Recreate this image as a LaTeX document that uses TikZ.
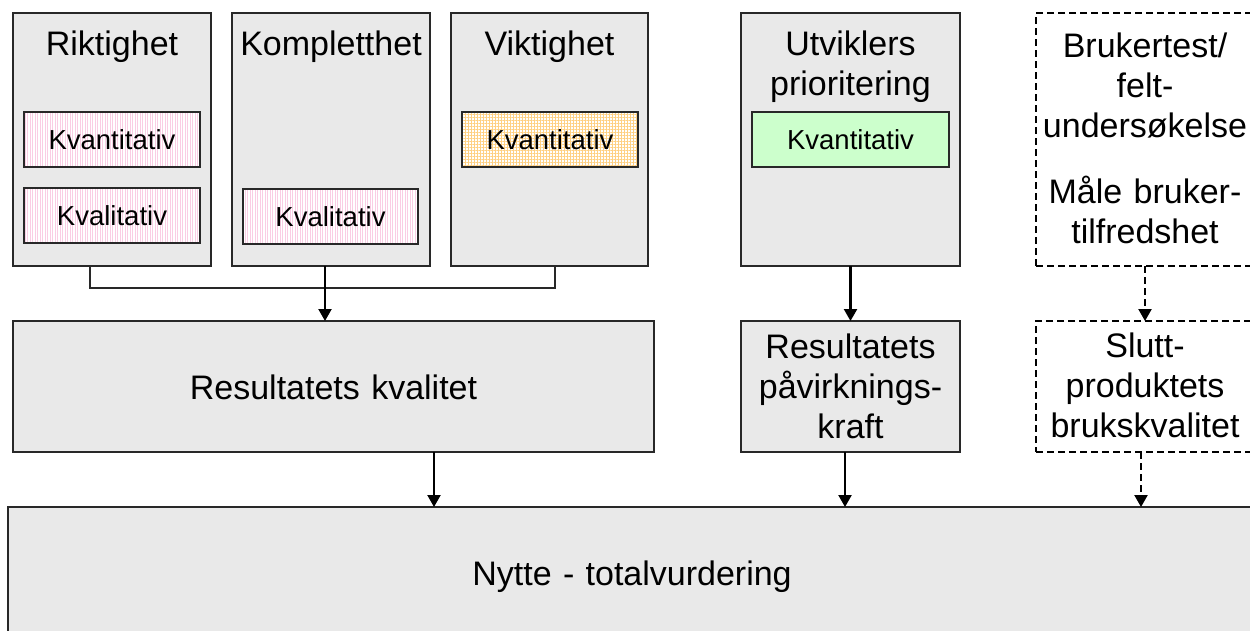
\documentclass[tikz,border=0pt]{standalone}
\usepackage{fontspec}
\setmainfont{Liberation Sans}
\usetikzlibrary{arrows.meta,patterns.meta}
\definecolor{boxgray}{RGB}{233,233,233}
\definecolor{edge}{RGB}{40,40,40}
\definecolor{pinkst}{RGB}{250,205,228}
\definecolor{orangest}{RGB}{255,208,130}
\definecolor{greenf}{RGB}{204,255,204}
\begin{document}
\begin{tikzpicture}[x=1pt,y=-1pt,
  box/.style={draw=edge, line width=1.5pt, fill=boxgray, inner sep=0pt, outer sep=0pt},
  dbox/.style={draw=black, line width=2pt, dash pattern=on 7pt off 4pt, inner sep=0pt, outer sep=0pt},
  sub/.style={draw=edge, line width=1.2pt, inner sep=0pt, outer sep=0pt, minimum height=55pt,
    font=\fontsize{27.5}{31}\selectfont, text height=19.5pt, text depth=0pt},
  pinkbox/.style={sub, preaction={fill=white}, pattern={Lines[angle=90,distance=2.5pt,line width=0.8pt]}, pattern color=pinkst},
  orangebox/.style={sub, preaction={fill=white}, pattern={Hatch[angle=0,distance=3pt,line width=0.6pt]}, pattern color=orangest},
  greenbox/.style={sub, fill=greenf},
  title/.style={anchor=base, align=center, text width=240pt, inner sep=0pt, font=\fontsize{34}{40}\selectfont},
  arr/.style={line width=2.2pt, -{Triangle[width=13pt,length=12pt]}},
  darr/.style={arr, dash pattern=on 7pt off 4pt},
]
\clip (0,0) rectangle (1250,630);
\fill[white] (0,0) rectangle (1250,630);

% top row
\node[box, minimum width=198pt, minimum height=253pt] (A) at (112,139.5) {};
\node[box, minimum width=198pt, minimum height=253pt] (B) at (331,139.5) {};
\node[box, minimum width=197pt, minimum height=253pt] (C) at (549.5,139.5) {};
\node[box, minimum width=219pt, minimum height=253pt] (D) at (850.5,139.5) {};
\node[dbox, minimum width=218pt, minimum height=253pt] (E) at (1145,139.5) {};

\node[title] (At) at (112,55) {Riktighet};
\node[title] (Bt) at (331,55) {Kompletthet};
\node[title] (Ct) at (549.5,55) {Viktighet};
\node[title] (Dt) at (850.5,55) {Utviklers\\prioritering};
\node[title] (Et) at (1145,57) {Brukertest/\\felt-\\undersøkelse\\[26pt]Måle bruker-\\tilfredshet};

\node[pinkbox, minimum width=176pt] (A1) at (112,139.5) {Kvantitativ};
\node[pinkbox, minimum width=176pt] (A2) at (112,215.5) {Kvalitativ};
\node[pinkbox, minimum width=175pt] (B1) at (330.5,216.5) {Kvalitativ};
\node[orangebox, minimum width=176pt] (C1) at (550,139.5) {Kvantitativ};
\node[greenbox, minimum width=197pt] (D1) at (850.5,139.5) {Kvantitativ};

% middle row
\node[box, minimum width=641pt, minimum height=131pt] (F) at (333.5,386.5) {};
\node[box, minimum width=219pt, minimum height=131pt] (G) at (850.5,386.5) {};
\node[dbox, minimum width=218pt, minimum height=131pt] (H) at (1145,386.5) {};
\node[title, text width=600pt] (Ft) at (333.5,399) {Resultatets kvalitet};
\node[title] (Gt) at (850.5,358) {Resultatets\\påvirknings-\\kraft};
\node[title] (Ht) at (1145,357) {Slutt-\\produktets\\brukskvalitet};

% bottom
\node[box, minimum width=1248pt, minimum height=136pt] (N) at (632,575) {};
\node[title, text width=600pt] (Nt) at (632,585) {Nytte - totalvurdering};

% connectors
\draw[edge, line width=1.2pt] ([xshift=-22pt]A.south) -- ++(0,22) -| ([xshift=5.5pt]C.south);
\draw[arr] ([xshift=-6pt]B.south) -- ([xshift=-6pt]B.south |- F.north);
\draw[arr] (D.south) -- (G.north);
\draw[darr] (E.south) -- (H.north);
\draw[arr] ([xshift=100.5pt]F.south) -- ([xshift=100.5pt]F.south |- N.north);
\draw[arr] ([xshift=-5.5pt]G.south) -- ([xshift=-5.5pt]G.south |- N.north);
\draw[darr] ([xshift=-4pt]H.south) -- ([xshift=-4pt]H.south |- N.north);
\end{tikzpicture}
\end{document}
